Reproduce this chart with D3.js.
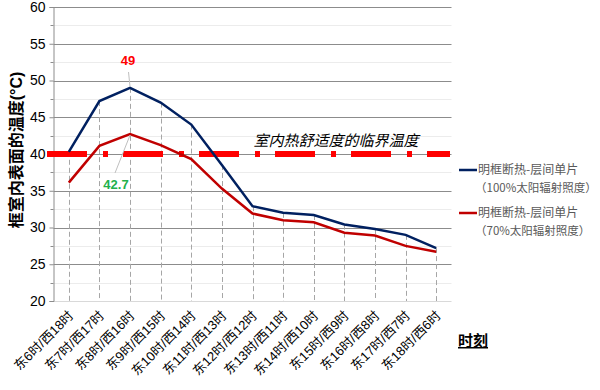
<!DOCTYPE html>
<html>
<head>
  <meta charset="utf-8">
  <style>
    body {
      margin: 0;
      background: white;
      font-family: "Liberation Sans", Arial, "Noto Sans CJK SC", sans-serif;
    }
  </style>
</head>
<body>
  <div id="chart"></div>
  <script src="https://d3js.org/d3.v7.min.js"></script>
  <script>
    var width = 600, height = 390;

    // data
    var categories = ["东6时/西18时", "东7时/西17时", "东8时/西16时", "东9时/西15时", "东10时/西14时",
      "东11时/西13时", "东12时/西12时", "东13时/西11时", "东14时/西10时", "东15时/西9时",
      "东16时/西8时", "东17时/西7时", "东18时/西6时"];
    var full = [40.3, 47.2, 49, 47.0, 44.0, 38.5, 32.9, 32.0, 31.7, 30.4, 29.8, 29.0, 27.2];
    var partial = [36.1, 41.1, 42.7, 41.2, 39.3, 35.3, 31.9, 31.0, 30.7, 29.3, 28.9, 27.5, 26.7];
    var seriesNames = [["明框断热-层间单片", "（100%太阳辐射照度）"], ["明框断热-层间单片", "（70%太阳辐射照度）"]];
    var yTicks = [20, 25, 30, 35, 40, 45, 50, 55, 60];
    var threshold = 40;

    var svg = d3.select("#chart").append("svg")
      .attr("width", width).attr("height", height);

    var x = d3.scaleBand().domain(categories).range([53.5, 451.5]);
    var y = d3.scaleLinear().domain([20, 60]).range([301, 7]);
    var cx = d => x(d) + x.bandwidth() / 2;

    // minor gridlines
    var minor = d3.range(22.5, 60, 5);
    svg.append("g").selectAll("line").data(minor).enter().append("line")
      .attr("x1", 53.5).attr("x2", 451.5)
      .attr("y1", d => Math.round(y(d)) + 0.5).attr("y2", d => Math.round(y(d)) + 0.5)
      .attr("stroke", "#ececec");

    // major gridlines
    svg.append("g").selectAll("line").data(yTicks.slice(1)).enter().append("line")
      .attr("x1", 53.5).attr("x2", 451.5)
      .attr("y1", d => Math.round(y(d)) + 0.5).attr("y2", d => Math.round(y(d)) + 0.5)
      .attr("stroke", "#8c8c8c");

    // x axis line
    svg.append("line")
      .attr("x1", 53.5).attr("x2", 451.5)
      .attr("y1", Math.round(y(20)) + 0.5).attr("y2", Math.round(y(20)) + 0.5)
      .attr("stroke", "#d9d9d9");

    // drop lines
    svg.append("g").selectAll("line").data(categories).enter().append("line")
      .attr("x1", d => Math.round(cx(d)) + 0.5).attr("x2", d => Math.round(cx(d)) + 0.5)
      .attr("y1", (d, i) => y(full[i])).attr("y2", y(20))
      .attr("stroke", "#a6a6a6").attr("stroke-dasharray", "5,3");

    // y axis
    var yAxis = svg.append("g").attr("transform", "translate(53.5,0)")
      .call(d3.axisLeft(y).tickValues(yTicks).tickSize(4).tickPadding(4));
    yAxis.select(".domain").attr("stroke", "#8c8c8c");
    yAxis.selectAll(".tick line").attr("stroke", "#8c8c8c");
    yAxis.selectAll("text").attr("font-size", 14).attr("fill", "#000")
      .attr("font-family", "Liberation Sans, Arial, sans-serif");
    svg.append("g").selectAll("line").data(minor).enter().append("line")
      .attr("x1", 50.5).attr("x2", 53.5)
      .attr("y1", d => Math.round(y(d)) + 0.5).attr("y2", d => Math.round(y(d)) + 0.5)
      .attr("stroke", "#8c8c8c");

    // threshold line
    svg.append("line")
      .attr("x1", 47).attr("x2", 450)
      .attr("y1", y(threshold)).attr("y2", y(threshold))
      .attr("stroke", "#ff0000").attr("stroke-width", 6)
      .attr("stroke-dasharray", "40,16,5,15");
    svg.append("text")
      .attr("x", 336).attr("y", 146)
      .attr("text-anchor", "middle")
      .attr("font-size", 15).attr("font-style", "italic")
      .attr("font-family", "Noto Sans CJK SC, sans-serif")
      .text("室内热舒适度的临界温度");

    // series lines
    var line = d3.line().x((d, i) => cx(categories[i])).y(d => y(d));
    svg.append("path").datum(partial)
      .attr("d", line).attr("fill", "none")
      .attr("stroke", "#c00000").attr("stroke-width", 2.5);
    svg.append("path").datum(full)
      .attr("d", line).attr("fill", "none")
      .attr("stroke", "#002060").attr("stroke-width", 2.5);

    // data labels with leaders
    svg.append("line")
      .attr("x1", 128.5).attr("y1", 72).attr("x2", cx(categories[2])).attr("y2", y(full[2]) - 1)
      .attr("stroke", "#bfbfbf");
    svg.append("text")
      .attr("x", 128).attr("y", 65).attr("text-anchor", "middle")
      .attr("font-size", 13).attr("font-weight", "bold").attr("fill", "#ff0000")
      .text(full[2]);
    svg.append("line")
      .attr("x1", 115).attr("y1", 173).attr("x2", cx(categories[2])).attr("y2", y(partial[2]) + 1)
      .attr("stroke", "#bfbfbf");
    svg.append("text")
      .attr("x", 116).attr("y", 189).attr("text-anchor", "middle")
      .attr("font-size", 13).attr("font-weight", "bold").attr("fill", "#22b04c")
      .text(partial[2]);

    // x labels
    svg.append("g").selectAll("text").data(categories).enter().append("text")
      .attr("transform", d => "translate(" + (cx(d) - 1) + ",310) rotate(-45)")
      .attr("text-anchor", "end")
      .attr("dy", "0.7em")
      .attr("font-size", 13).attr("fill", "#000")
      .attr("font-family", "Liberation Sans, Arial, Noto Sans CJK SC, sans-serif")
      .text(d => d);

    // y title
    svg.append("text")
      .attr("transform", "translate(22,150) rotate(-90)")
      .attr("text-anchor", "middle")
      .attr("font-size", 16).attr("font-weight", "bold")
      .attr("font-family", "Liberation Sans, Arial, Noto Sans CJK SC, sans-serif")
      .text("框室内表面的温度(°C)");

    // x title
    svg.append("text")
      .attr("x", 458).attr("y", 346)
      .attr("font-size", 15).attr("font-weight", "bold")
      .attr("text-decoration", "underline")
      .attr("font-family", "Noto Sans CJK SC, sans-serif")
      .text("时刻");

    // legend
    var colors = ["#002060", "#c00000"];
    var leg = svg.append("g").selectAll("g").data(seriesNames).enter().append("g")
      .attr("transform", (d, i) => "translate(459," + (170 + i * 43) + ")");
    leg.append("line")
      .attr("x1", 0).attr("x2", 18).attr("y1", 0).attr("y2", 0)
      .attr("stroke", (d, i) => colors[i]).attr("stroke-width", 2.5);
    leg.append("text")
      .attr("x", 19).attr("y", 4)
      .attr("font-size", 12).attr("fill", "#595959")
      .attr("font-family", "Noto Sans CJK SC, sans-serif")
      .text(d => d[0]);
    leg.append("text")
      .attr("x", 16).attr("y", 22)
      .attr("font-size", 11.5).attr("fill", "#595959")
      .attr("font-family", "Noto Sans CJK SC, sans-serif")
      .text(d => d[1]);
  </script>
</body>
</html>
